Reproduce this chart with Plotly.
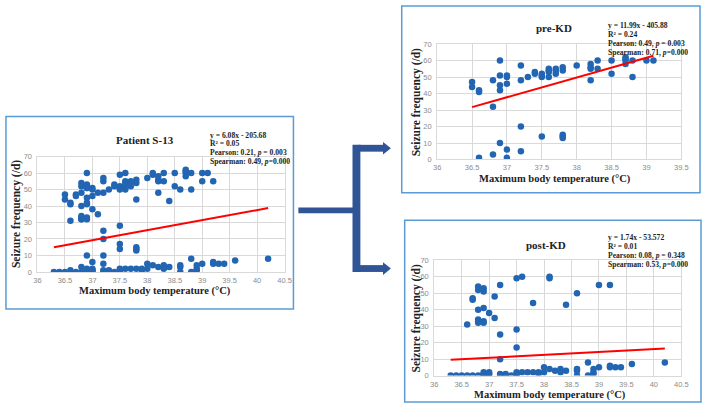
import plotly.graph_objects as go

W, H = 709, 408

# ---------------- data ----------------
pre_x = [36.5, 36.5, 36.6, 36.6, 36.6, 36.8, 36.8, 36.8,
         36.9, 36.9, 36.9, 36.9, 36.9,
         37.0, 37.0, 37.0, 37.0, 37.0,
         37.2, 37.2, 37.2, 37.2, 37.3, 37.4, 37.4,
         37.5, 37.5, 37.5, 37.5,
         37.6, 37.6, 37.6, 37.6, 37.7, 37.7, 37.7,
         37.8, 37.8, 37.8, 37.8, 37.8, 38.0,
         38.2, 38.2, 38.2, 38.2, 38.3, 38.3, 38.5, 38.5,
         38.7, 38.7, 38.7, 38.7, 38.8, 38.8, 39.0, 39.1]
pre_y = [47, 44, 42, 41, 1, 48, 32, 3,
         60, 51, 45, 42, 10,
         51, 50, 46, 6, 1,
         57, 48, 20, 5, 50, 53, 52,
         52, 51, 50, 14,
         55, 54, 53, 50, 55, 54, 52,
         56, 54, 15, 14, 13, 57,
         58, 56, 55, 48, 60, 55, 60, 52,
         62, 61, 60, 58, 60, 50, 60, 60]

post_x = [36.6, 36.7, 36.7, 36.8, 36.8, 36.8, 36.8, 36.8, 36.8,
          36.9, 36.9, 36.9, 36.9, 36.9, 37.0, 37.1, 37.1,
          37.2, 37.2, 37.2, 37.5, 37.5, 37.5, 37.6, 37.8,
          38.1, 38.1, 38.4, 38.6, 39.0, 39.2,
          36.3, 36.4, 36.5, 36.6, 36.7, 36.8, 36.9, 36.9, 36.9,
          37.0, 37.0, 37.0, 37.2, 37.2, 37.3, 37.3, 37.4,
          37.5, 37.5, 37.5, 37.6, 37.7, 37.8, 37.9, 37.9,
          38.0, 38.0, 38.1, 38.2, 38.3, 38.3, 38.3, 38.4,
          38.6, 38.6, 38.6, 38.8, 38.8, 38.9, 38.9, 38.9,
          39.0, 39.2, 39.2, 39.3, 39.4, 39.6, 40.2]
post_y = [31, 47, 46, 54, 52, 40, 34, 33, 32,
          53, 51, 41, 33, 32, 38, 48, 35,
          55, 25, 10, 59, 28, 17, 60, 44,
          60, 59, 43, 50, 55, 55,
          0, 0, 0, 0, 0, 0, 0, 1, 2,
          0, 1, 2, 0, 1, 0, 1, 0,
          0, 1, 2, 2, 2, 2, 1, 2,
          2, 5, 4, 3, 2, 3, 4, 3,
          0, 3, 4, 0, 8, 1, 2, 4,
          5, 5, 6, 5, 5, 7, 8]

all_x = pre_x + post_x
all_y = pre_y + post_y

titles = ["Patient S-13", "pre-KD", "post-KD"]
slopes = [6.08, 11.99, 1.74]
intercepts = [-205.68, -405.88, -53.572]
stats_text = [
    ["y = 6.08x - 205.68", "R² = 0.05", "Pearson: 0.21, <i>p</i> = 0.003", "Spearman: 0.49, <i>p</i>=0.000"],
    ["y = 11.99x - 405.88", "R² = 0.24", "Pearson: 0.49, <i>p</i> = 0.003", "Spearman: 0.71, <i>p</i>=0.000"],
    ["y = 1.74x - 53.572", "R² = 0.01", "Pearson: 0.08, <i>p</i> = 0.348", "Spearman: 0.53, <i>p</i>=0.000"],
]
x_ranges = [[36, 40.5], [36, 39.5], [36, 40.5]]
y_range = [0, 70]
xlabel = "Maximum body temperature (°C)"
ylabel = "Seizure frequency (/d)"

# ---------------- layout helpers ----------------
def fx(p):
    return p / W

def fy(p):
    return 1 - p / H

# plot-area pixel boxes (left, right, top, bottom)
areas = [(34, 285, 156, 274), (440, 688, 41, 159), (437, 688, 262, 380)]
title_pos = [(143, 139), (559, 25), (551, 246)]
stats_pos = [(208, 134), (613, 22), (613, 239)]
xtitle_pos = [(153, 293.5), (560, 178.5), (555, 400)]
ytitle_pos = [(12, 215), (419, 100), (419, 321)]
boxes = [(2, 294, 115, 312), (404, 707, 2, 193), (407, 708, 221, 407)]

series = [(all_x, all_y), (pre_x, pre_y), (post_x, post_y)]

fig = go.Figure()
SERIF = "Times New Roman, Liberation Serif, serif"
DOT = "#2266b3"
GRID = "#d9d9d9"
TICK = "#8c8c8c"

annotations = []
shapes = []
for i in range(3):
    sx = "" if i == 0 else str(i + 1)
    xs, ys = series[i]
    fig.add_trace(go.Scatter(x=xs, y=ys, mode="markers",
                             marker=dict(color=DOT, size=6.5),
                             xaxis="x" + sx, yaxis="y" + sx, showlegend=False))
    x0, x1 = min(xs), max(xs)
    fig.add_trace(go.Scatter(x=[x0, x1],
                             y=[slopes[i] * x0 + intercepts[i], slopes[i] * x1 + intercepts[i]],
                             mode="lines", line=dict(color="#ff0000", width=2),
                             xaxis="x" + sx, yaxis="y" + sx, showlegend=False))
    l, r, t, b = areas[i]
    ax = dict(domain=[fx(l), fx(r)], range=x_ranges[i], dtick=0.5, tick0=36,
              showgrid=True, gridcolor=GRID, gridwidth=1, zeroline=False,
              showline=True, linecolor=GRID, mirror=True, ticks="",
              ticklabelstandoff=1,
              tickfont=dict(family="Liberation Sans", size=7.5, color=TICK),
              anchor="y" + sx)
    ay = dict(domain=[fy(b), fy(t)], range=y_range, dtick=10,
              showgrid=True, gridcolor=GRID, gridwidth=1, zeroline=False,
              showline=True, linecolor=GRID, mirror=True, ticks="",
              ticklabelstandoff=3,
              tickfont=dict(family="Liberation Sans", size=7.5, color=TICK),
              anchor="x" + sx)
    fig.update_layout(**{"xaxis" + sx: ax, "yaxis" + sx: ay})

    tx, ty = title_pos[i]
    annotations.append(dict(text="<b>%s</b>" % titles[i], x=fx(tx), y=fy(ty), xref="paper", yref="paper",
                            showarrow=False, xanchor="center", yanchor="middle",
                            font=dict(family=SERIF, size=11, color="#222222")))
    sxp, syp = stats_pos[i]
    for k, line in enumerate(stats_text[i]):
        annotations.append(dict(text="<b>%s</b>" % line, x=fx(sxp), y=fy(syp + 9.1 * k),
                                xref="paper", yref="paper", showarrow=False,
                                xanchor="left", yanchor="middle", borderpad=0,
                                font=dict(family=SERIF, size=7.6, color="#222222")))
    xtx, xty = xtitle_pos[i]
    annotations.append(dict(text="<b>%s</b>" % xlabel, x=fx(xtx), y=fy(xty), xref="paper", yref="paper",
                            showarrow=False, xanchor="center", yanchor="middle", borderpad=0,
                            font=dict(family=SERIF, size=10.5, color="#222222")))
    ytx, yty = ytitle_pos[i]
    annotations.append(dict(text="<b>%s</b>" % ylabel, x=fx(ytx), y=fy(yty), xref="paper", yref="paper",
                            showarrow=False, xanchor="center", yanchor="middle", textangle=-90, borderpad=0,
                            font=dict(family=SERIF, size=11.5, color="#222222")))
    bl, br, bt, bb = boxes[i]
    shapes.append(dict(type="rect", xref="paper", yref="paper", x0=fx(bl), x1=fx(br), y0=fy(bb), y1=fy(bt),
                       line=dict(color="#5b9bd5", width=1.5), fillcolor="rgba(0,0,0,0)"))

# connector arrow
ARROW = "#2f5597"
def rect(x0, x1, y0, y1):
    return dict(type="rect", xref="paper", yref="paper", x0=fx(x0), x1=fx(x1), y0=fy(y1), y1=fy(y0),
                line=dict(width=0), fillcolor=ARROW)

shapes.append(rect(299, 356, 208, 214))
shapes.append(rect(354, 362, 144, 274))
shapes.append(rect(360, 386, 144, 151))
shapes.append(rect(360, 386, 267, 274))
for cy in (147.5, 270.5):
    path = "M %f %f L %f %f L %f %f Z" % (fx(385), fy(cy - 6.5), fx(393), fy(cy), fx(385), fy(cy + 6.5))
    shapes.append(dict(type="path", xref="paper", yref="paper", path=path,
                       line=dict(width=0), fillcolor=ARROW))

fig.update_layout(width=W, height=H, margin=dict(l=0, r=0, t=0, b=0),
                  paper_bgcolor="white", plot_bgcolor="white",
                  annotations=annotations, shapes=shapes, showlegend=False)

fig.write_html("out.html")
